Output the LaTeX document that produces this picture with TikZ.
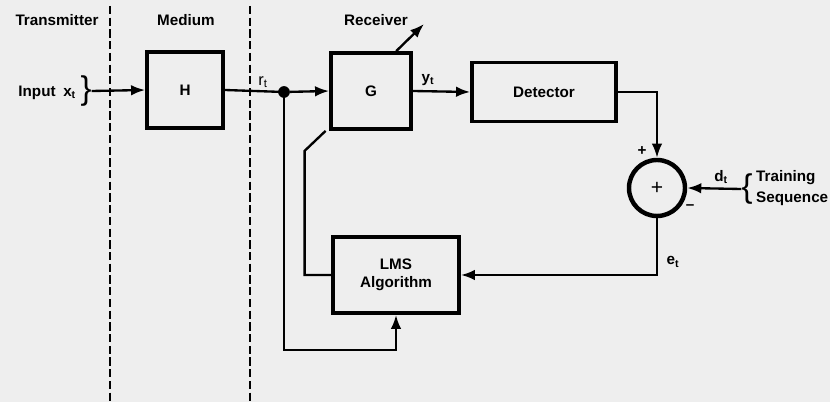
\documentclass[tikz,border=0pt]{standalone}
\usepackage{fontspec}
\setmainfont{Liberation Sans}
\usetikzlibrary{
    positioning,
    arrows.meta
}
\definecolor{paper}{RGB}{238,238,238}

\begin{document}
\begin{tikzpicture}[
    x=0.03cm, y=-0.03cm,
    font=\fontsize{13}{15}\selectfont\bfseries,
    box/.style={
        draw=black,
        line width=3.2pt,
        align=center,
        inner sep=2pt
    },
    wire/.style={line width=2pt},
    arrow/.style={-{Latex[length=12pt,width=9pt]}, line width=2pt},
    zone/.style={line width=1.6pt, dash pattern=on 7pt off 3pt},
    brace/.style={font=\fontsize{28}{28}\selectfont\mdseries, inner sep=0pt}
]

% Set bounding box to the size of the reference
\fill[paper] (0,0) rectangle (830,402);
\useasboundingbox (0,0) rectangle (830,402);

% ================= ZONES =================
\draw[zone] (110,6) -- (110,402);
\draw[zone] (250,6) -- (250,402);

\node (tx) at (57,20) {Transmitter};
\node (medium) at (186,20) {Medium};
\node (rx) at (376,20) {Receiver};

% ================= INPUT =================
\node[anchor=east] (input) at (80,93) {Input\enspace x\textsubscript{t}};
\node[brace] (inbrace) at (86,91) {\}};

% ================= BLOCKS =================
\node[box, minimum width=2.28cm, minimum height=2.28cm] (H) at (185,90) {H};
\node[circle, fill=black, inner sep=0pt, minimum size=10pt] (split) at (284,92) {};
\node[box, minimum width=2.4cm, minimum height=2.28cm] (G) at (371,91) {G};
\node[box, minimum width=4.32cm, minimum height=1.77cm] (det) at (544,92) {Detector};
\node[circle, draw=black, line width=3.8pt, minimum size=1.68cm, inner sep=0pt,
      font=\fontsize{18}{18}\selectfont\mdseries] (sum) at (657,188) {+};
\node[box, minimum width=3.78cm, minimum height=2.28cm] (lms) at (396,275)
{LMS\\Algorithm};

% ================= TRAINING =================
\node[brace] (tbrace) at (747,189) {\{};
\node[anchor=west, inner sep=0pt] (train) at (756,178) {Training};
\node[anchor=west, inner sep=0pt] (seq) at (756,199) {Sequence};

% ================= ARROWS =================
\draw[arrow] (inbrace.east) -- (H.west);
\draw[wire] (H.east) -- (split.center);
\draw[arrow] (split) -- (G.west);
\coordinate (adjust) at (424,24);
\draw[arrow] ([xshift=-0.5cm]G.north east) -- (adjust);
\draw[arrow] (G.east) -- (det.west);
\draw[arrow] (det.east) -| (sum.north);
\draw[arrow] (tbrace.west) -- (sum.east);
\draw[arrow] (sum.south) |- (lms.east);
\draw[wire] ([xshift=-3pt]G.south west) -- ++(-21,20) |- (lms.west);
\coordinate (loop) at (396,350);
\draw[arrow] (split.center) |- (loop) -- (lms.south);

% ================= LABELS =================
\node (rlabel) at (263,82) {\mdseries\fontsize{14}{15}\selectfont r\textsubscript{t}};
\node (ylabel) at (428,80) {y\textsubscript{t}};
\node (dlabel) at (721,177) {d\textsubscript{t}};
\node (elabel) at (673,262) {e\textsubscript{t}};
\node (plus) at (642,151) {+};
\node (minus) at (690,207) {--};

\end{tikzpicture}
\end{document}
